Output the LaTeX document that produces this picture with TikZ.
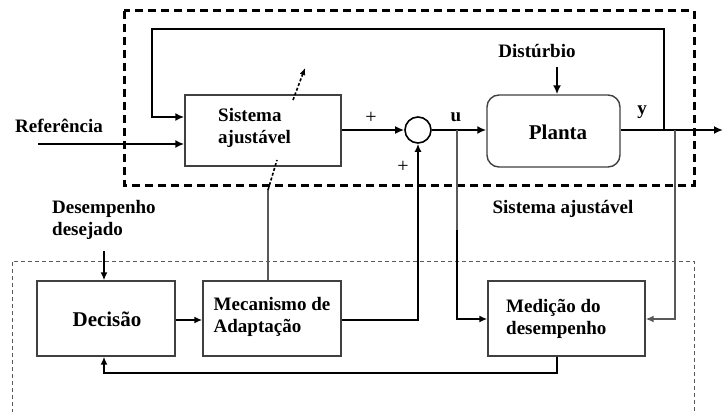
\documentclass[tikz,border=0pt]{standalone}
\usepackage{fontspec}
\setmainfont{Liberation Serif}
\usetikzlibrary{arrows.meta}
\begin{document}
\begin{tikzpicture}[x=1pt,y=-1pt,
  blockbox/.style={draw=black!75,line width=1.4pt,fill=white,inner sep=0pt},
  lbl/.style={font=\fontsize{19}{21}\selectfont\bfseries,align=left,inner sep=0pt},
  biglbl/.style={font=\fontsize{21}{23}\selectfont\bfseries,inner sep=0pt},
  plainlbl/.style={font=\fontsize{20}{22}\selectfont,inner sep=0pt},
  mainline/.style={line width=2.6pt},
  thinline/.style={line width=1.6pt},
  greyline/.style={line width=1.3pt,draw=black!65},
  tip/.style={-{Latex[length=9pt,width=8pt]}},
  smalltip/.style={-{Latex[length=8pt,width=7pt]}}
]
\useasboundingbox (0,0) rectangle (723,412);

% outer frames
\draw[line width=3pt,dash pattern=on 8pt off 5pt] (124,11) rectangle (694,185);
\draw[line width=1pt,black!65,dash pattern=on 4pt off 3pt] (12,420) -- (12,261) -- (694,261) -- (694,420);

% blocks
\node[blockbox,minimum width=156pt,minimum height=71pt] (sa) at (263,130.5) {};
\node[lbl,anchor=west] (satext) at (218,128) {Sistema\\[1pt]ajustável};
\node[draw,line width=1.6pt,circle,minimum size=26pt,inner sep=0pt] (sum) at (418,130) {};
\node[blockbox,rounded corners=12pt,minimum width=133pt,minimum height=72pt] (pl) at (553.5,131) {};
\node[biglbl] (pltext) at (558,132) {Planta};
\node[blockbox,minimum width=138pt,minimum height=75pt] (dec) at (106,318.5) {};
\node[biglbl] (dectext) at (107,319) {Decisão};
\node[blockbox,minimum width=138pt,minimum height=75pt] (mec) at (272,318.5) {};
\node[lbl] (mectext) at (272,317) {Mecanismo de\\[1pt]Adaptação};
\node[blockbox,minimum width=157pt,minimum height=75pt] (med) at (566.5,318.5) {};
\node[lbl,anchor=west] (medtext) at (506,319) {Medição do\\[1pt]desempenho};

% labels
\node[lbl] (ref) at (59,126) {Referência};
\node[lbl] (dist) at (537,51) {Distúrbio};
\node[lbl,anchor=west] (desej) at (52,220) {Desempenho\\[1pt]desejado};
\node[lbl] (satitle) at (563,209) {Sistema ajustável};
\node[lbl] (ulbl) at (456,117) {u};
\node[lbl] (ylbl) at (642,112) {y};
\node[plainlbl] (plus1) at (371,118) {+};
\node[plainlbl] (plus2) at (403,167) {+};

% named points
\coordinate (refin) at (38,144);
\coordinate (out) at (723,130);
\coordinate (ubr) at (457,130);
\coordinate (ybr) at (675,130);
\coordinate (fbk) at (664,130);
\coordinate (distin) at (557,67);
\coordinate (desin) at (104,251);
\coordinate (medout) at (557,373);
\coordinate (decin) at (104,373);
\coordinate (adj) at (268,190);

% main loop
\draw[mainline,tip] (refin) -- (refin -| sa.west);
\draw[mainline,tip] (fbk) -- (664,29) -- (152,29) -- (152,117) -- (sa.west |- 0,117);
\draw[mainline,tip] (sa.east |- sum) -- (sum.west);
\draw[mainline,tip] (sum.east) -- (pl.west |- sum);
\draw[mainline,tip] (pl.east |- out) -- (out);
\draw[mainline,tip] (distin) -- (distin |- pl.north);

% measurement and decision paths
\draw[greyline] (ubr) -- (457,230);
\draw[thinline,smalltip] (457,230) -- (457,319) -- (med.west |- 0,319);
\draw[greyline,smalltip] (ybr) -- (675,319) -- (med.east |- 0,319);
\draw[thinline,smalltip] (medout |- med.south) -- (medout) -- (decin) -- (decin |- dec.south);
\draw[thinline,smalltip] (dec.east |- 0,320) -- (mec.west |- 0,320);
\draw[thinline,smalltip] (mec.east |- 0,320) -- (418,320) -- (sum.south);
\draw[thinline,smalltip] (desin) -- (desin |- dec.north);

% adjustment arrow across the adjustable system
\draw[greyline] (mec.north -| adj) -- (adj);
\draw[line width=1.6pt,dash pattern=on 3pt off 2pt] (adj) -- (277,160);
\draw[line width=1.6pt,dash pattern=on 3pt off 2pt,-{Latex[length=7pt,width=6pt]}] (293,100) -- (305,68);
\end{tikzpicture}
\end{document}
